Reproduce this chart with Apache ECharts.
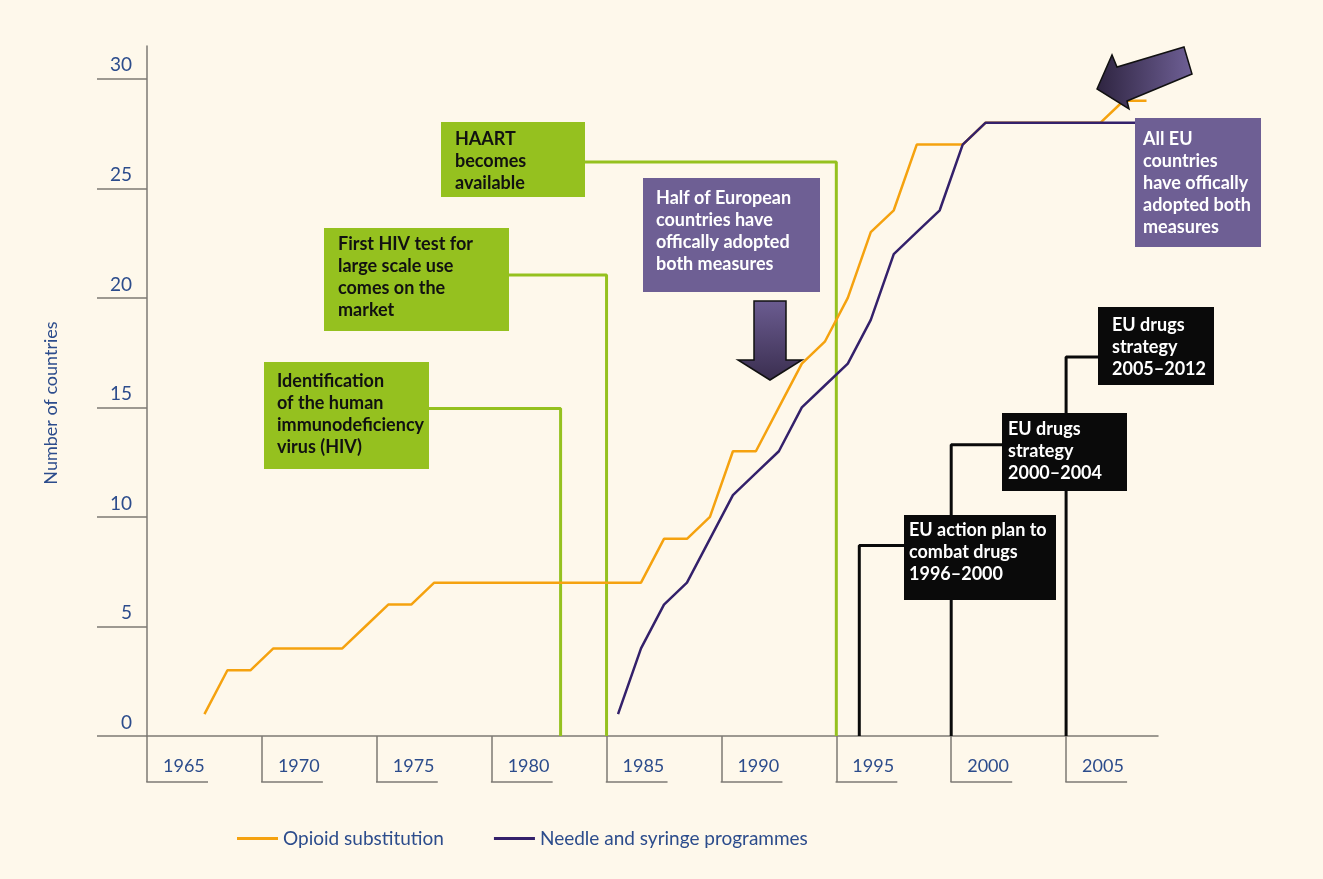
<!DOCTYPE html>
<html>
<head>
<meta charset="utf-8">
<title>Opioid substitution and needle and syringe programmes</title>
<script src="https://cdn.jsdelivr.net/npm/echarts@6/dist/echarts.min.js"></script>
<style>
  html, body { margin: 0; padding: 0; background: #fef8eb; }
  #chart { width: 1323px; height: 879px; }
</style>
</head>
<body>
<div id="chart"></div>
<script>
// years on the category axis (one band per year)
const years = [
  "1965", "1966", "1967", "1968", "1969", "1970", "1971", "1972", "1973", "1974",
  "1975", "1976", "1977", "1978", "1979", "1980", "1981", "1982", "1983", "1984",
  "1985", "1986", "1987", "1988", "1989", "1990", "1991", "1992", "1993", "1994",
  "1995", "1996", "1997", "1998", "1999", "2000", "2001", "2002", "2003", "2004",
  "2005", "2006", "2007", "2008"
];
// number of countries, one value per year above
const opioid = [
  null, null, 1, 3, 3, 4, 4, 4, 4, 5,
  6, 6, 7, 7, 7, 7, 7, 7, 7, 7,
  7, 7, 9, 9, 10, 13, 13, 15, 17, 18,
  20, 23, 24, 27, 27, 27, 28, 28, 28, 28,
  28, 28, 29, 29
];
const needle = [
  null, null, null, null, null, null, null, null, null, null,
  null, null, null, null, null, null, null, null, null, null,
  1, 4, 6, 7, 9, 11, 12, 13, 15, 16,
  17, 19, 22, 23, 24, 27, 28, 28, 28, 28,
  28, 28, 28, 28
];
const yTicks = [0, 5, 10, 15, 20, 25, 30];
const xMajorYears = [1965, 1970, 1975, 1980, 1985, 1990, 1995, 2000, 2005];

// milestones: year of the vertical line and height of its arm
const eventYears = [1983, 1985, 1995, 1996, 2000, 2005];
const eventLevels = [14.95, 21.05, 26.2, 8.7, 13.3, 17.3];
const eventArmEnds = [1977, 1980, 1983, 1998.5, 2003, 2007]; // arm ends under its box
const eventColors = ["#95c11f", "#95c11f", "#95c11f", "#0a0a0a", "#0a0a0a", "#0a0a0a"];

const BLUE = "#2c4c8c";
const GREY = "#7d7a74";
const FONT = "Lato";

// text boxes (pixel layout)
const boxes = [
  { x: 264, y: 362, w: 165, h: 107, tx: 13, ty: 8, fill: "#95c11f", color: "#111",
    text: "Identification\nof the human\nimmunodeficiency\nvirus (HIV)" },
  { x: 324, y: 228, w: 185, h: 103, tx: 14, ty: 5, fill: "#95c11f", color: "#111",
    text: "First HIV test for\nlarge scale use\ncomes on the\nmarket" },
  { x: 441, y: 122, w: 144, h: 75, tx: 14, ty: 6, fill: "#95c11f", color: "#111",
    text: "HAART\nbecomes\navailable" },
  { x: 643, y: 178, w: 177, h: 114, tx: 13, ty: 9, fill: "#6e5f94", color: "#fff",
    text: "Half of European\ncountries have\noffically adopted\nboth measures" },
  { x: 1135, y: 118, w: 126, h: 129, tx: 8, ty: 10, fill: "#6e5f94", color: "#fff",
    text: "All EU\ncountries\nhave offically\nadopted both\nmeasures" },
  { x: 904, y: 515, w: 152, h: 85, tx: 5, ty: 4, fill: "#0a0a0a", color: "#fff",
    text: "EU action plan to\ncombat drugs\n1996\u20132000" },
  { x: 1002, y: 413, w: 125, h: 78, tx: 6, ty: 5, fill: "#0a0a0a", color: "#fff",
    text: "EU drugs\nstrategy\n2000\u20132004" },
  { x: 1098, y: 307, w: 116, h: 78, tx: 14, ty: 7, fill: "#0a0a0a", color: "#fff",
    text: "EU drugs\nstrategy\n2005\u20132012" }
];

const connectorSeries = eventYears.map((yr, i) => ({
  type: "line",
  xAxisIndex: 1,
  yAxisIndex: 0,
  silent: true,
  symbol: "none",
  z: 1,
  lineStyle: { color: eventColors[i], width: 3 },
  data: [[eventArmEnds[i], eventLevels[i]], [yr, eventLevels[i]], [yr, 0]]
}));

const options = {
  animation: false,
  backgroundColor: "#fef8eb",
  grid: { left: 147, right: 165, top: 46, bottom: 143 },
  legend: {
    data: ["Opioid substitution", "Needle and syringe programmes"],
    left: 232,
    top: 824,
    icon: "rect",
    itemWidth: 41,
    itemHeight: 3,
    itemGap: 50,
    textStyle: { color: BLUE, fontSize: 19, fontFamily: FONT }
  },
  xAxis: [
    {
      type: "category",
      position: "bottom",
      data: years,
      boundaryGap: true,
      axisLine: { lineStyle: { color: GREY, width: 1.5 } },
      axisTick: { interval: 0, length: 6, lineStyle: { color: GREY, width: 1.5 } },
      axisLabel: { show: false },
      splitLine: { show: false }
    },
    {
      type: "value",
      position: "bottom",
      min: 1965,
      max: 2009,
      axisLine: { show: false },
      axisTick: { customValues: xMajorYears, length: 46, lineStyle: { color: GREY, width: 1.5 } },
      axisLabel: {
        customValues: xMajorYears,
        formatter: (v) => String(v),
        align: "left",
        padding: [0, 0, 0, 16],
        margin: 21,
        color: BLUE,
        fontSize: 18,
        fontFamily: FONT
      },
      splitLine: { show: false }
    }
  ],
  yAxis: {
    type: "value",
    min: 0,
    max: 31.5,
    name: "Number of countries",
    nameLocation: "middle",
    nameRotate: 90,
    nameGap: 87,
    nameTextStyle: { color: BLUE, fontSize: 18, fontFamily: FONT, padding: [0, 24, 0, 0] },
    axisLine: { show: true, lineStyle: { color: GREY, width: 1.5 } },
    axisTick: { show: true, customValues: yTicks, length: 50, lineStyle: { color: GREY, width: 1.5 } },
    axisLabel: {
      customValues: yTicks,
      color: BLUE,
      fontSize: 19,
      fontFamily: FONT,
      align: "right",
      verticalAlign: "bottom",
      margin: 15,
      padding: [0, 0, 4, 0]
    },
    splitLine: { show: false }
  },
  series: [
    ...connectorSeries,
    {
      name: "Opioid substitution",
      type: "line",
      data: opioid,
      symbol: "none",
      z: 3,
      color: "#f5a20f",
      lineStyle: { color: "#f5a20f", width: 2.5 }
    },
    {
      name: "Needle and syringe programmes",
      type: "line",
      data: needle,
      symbol: "none",
      z: 4,
      color: "#34216b",
      lineStyle: { color: "#34216b", width: 2.5 }
    }
  ]
};

const chart = echarts.init(document.getElementById("chart"));
chart.setOption(options);

// boxes, arrows and the L-shaped year brackets
const baseY = chart.convertToPixel({ yAxisIndex: 0 }, 0);
const brackets = xMajorYears.map((yr) => {
  const x = chart.convertToPixel({ xAxisIndex: 1 }, yr);
  return {
    type: "line",
    silent: true,
    shape: { x1: x - 0.75, y1: baseY + 46, x2: x + 61, y2: baseY + 46 },
    style: { stroke: GREY, lineWidth: 1.5 }
  };
});

const boxGraphics = [];
boxes.forEach((b) => {
  boxGraphics.push({
    type: "rect",
    silent: true,
    z: 100,
    shape: { x: b.x, y: b.y, width: b.w, height: b.h },
    style: { fill: b.fill }
  });
  boxGraphics.push({
    type: "text",
    silent: true,
    z: 101,
    x: b.x + b.tx,
    y: b.y + b.ty,
    style: {
      text: b.text,
      fill: b.color,
      fontSize: 18,
      fontWeight: "bold",
      fontFamily: FONT,
      lineHeight: 22,
      verticalAlign: "top"
    }
  });
});

const arrows = [
  {
    type: "polygon",
    silent: true,
    z: 102,
    shape: {
      points: [[1097, 89], [1112, 55], [1117, 67], [1184, 47], [1192, 74], [1127, 101], [1129, 109]]
    },
    style: {
      fill: new echarts.graphic.LinearGradient(0, 0, 1, 0, [
        { offset: 0, color: "#2e2440" },
        { offset: 1, color: "#6f6096" }
      ]),
      stroke: "#111",
      lineWidth: 1.5
    }
  },
  {
    type: "polygon",
    silent: true,
    z: 102,
    shape: {
      points: [[754, 301], [786, 301], [786, 360], [802, 360], [770, 380], [738, 360], [754, 360]]
    },
    style: {
      fill: new echarts.graphic.LinearGradient(0, 0, 0, 1, [
        { offset: 0, color: "#6b5c91" },
        { offset: 1, color: "#3a2e4f" }
      ]),
      stroke: "#111",
      lineWidth: 1.5
    }
  }
];

chart.setOption({ graphic: [...brackets, ...boxGraphics, ...arrows] });
</script>
</body>
</html>
